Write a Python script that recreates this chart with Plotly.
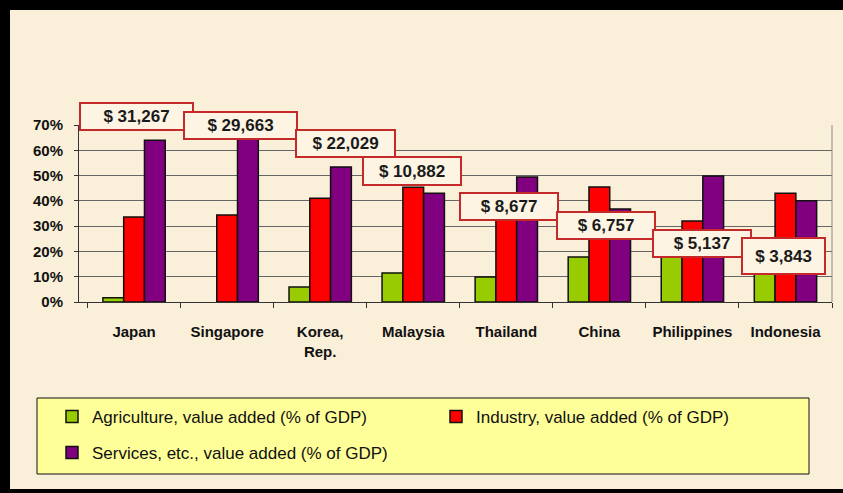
import plotly.graph_objects as go

# ---------------- data ----------------
countries = ["Japan", "Singapore", "Korea,<br>Rep.", "Malaysia", "Thailand", "China", "Philippines", "Indonesia"]
agriculture = [1.7, None, 5.9, 11.5, 9.9, 17.8, 18.5, 14.0]
industry = [33.6, 34.4, 41.0, 45.4, 41.0, 45.5, 32.0, 43.0]
services = [64.0, 65.0, 53.4, 43.0, 49.4, 36.8, 49.8, 40.0]
gdp_labels = ["$ 31,267", "$ 29,663", "$ 22,029", "$ 10,882", "$ 8,677", "$ 6,757", "$ 5,137", "$ 3,843"]
series_names = ["Agriculture, value added (% of GDP)",
                "Industry, value added (% of GDP)",
                "Services, etc., value added (% of GDP)"]
y_tickvals = [0, 10, 20, 30, 40, 50, 60, 70]
y_ticktext = ["0%", "10%", "20%", "30%", "40%", "50%", "60%", "70%"]

# ---------------- layout helpers (positions / styles) ----------------
W, H = 843, 493
L, R, T, B = 79, 11, 125, 191
PW, PH = W - L - R, H - T - B


def px_x(p):
    return (p - L) / PW


def px_y(p):
    return (H - B - p) / PH


# label box placement (category offset, box centre y px, width px, height px)
label_pos = [(0.026, 116.5, 113, 27), (1.141, 125.5, 113, 27), (2.268, 143.5, 99, 27),
             (2.985, 171, 98, 28), (4.026, 206.5, 98, 27), (5.067, 225.5, 98, 27),
             (6.108, 243.5, 98, 27), (6.98, 256, 83, 36)]

GREEN, RED, PURPLE = "#99cc00", "#ff0000", "#800080"

fig = go.Figure()
for name, vals, col, lg in [(series_names[0], agriculture, GREEN, "legend"),
                            (series_names[1], industry, RED, "legend"),
                            (series_names[2], services, PURPLE, "legend2")]:
    fig.add_trace(go.Bar(x=countries, y=vals, name=name, legend=lg,
                         marker=dict(color=col, line=dict(color="#111111", width=1.5))))

annotations = []
for txt, (cx, cy, bw, bh) in zip(gdp_labels, label_pos):
    annotations.append(dict(
        x=cx, y=px_y(cy), xref="x", yref="paper", text=txt, showarrow=False,
        xanchor="center", yanchor="middle",
        width=bw - 2, height=bh - 2, borderpad=0, borderwidth=2,
        bordercolor="#c42a2a", bgcolor="#fdf4e4",
        font=dict(family="Liberation Sans, Arial", size=17, color="#1a1a1a", weight="bold")))

shapes = [
    # cream page inside black frame
    dict(type="rect", xref="paper", yref="paper", layer="below",
         x0=px_x(10), x1=px_x(W + 5), y0=px_y(489), y1=px_y(10),
         fillcolor="#faefd9", line=dict(width=0)),
    # yellow legend box
    dict(type="rect", xref="paper", yref="paper", layer="below",
         x0=px_x(37), x1=px_x(809), y0=px_y(474), y1=px_y(398),
         fillcolor="#ffff99", line=dict(color="#111111", width=1)),
    # right border of plot area
    dict(type="line", xref="paper", yref="paper", x0=1, x1=1, y0=0, y1=1,
         line=dict(color="#8a8a8a", width=1)),
]

fig.update_layout(
    width=W, height=H,
    margin=dict(l=L, r=R, t=T, b=B, pad=0),
    paper_bgcolor="#000000",
    plot_bgcolor="rgba(0,0,0,0)",
    barmode="group", bargap=0.33, bargroupgap=0,
    annotations=annotations, shapes=shapes,
    legend=dict(orientation="h", x=px_x(52), y=px_y(417), xanchor="left", yanchor="middle",
                entrywidth=339, entrywidthmode="pixels", bgcolor="rgba(0,0,0,0)",
                font=dict(family="Liberation Sans, Arial", size=17, color="#111111")),
    legend2=dict(orientation="h", x=px_x(52), y=px_y(453), xanchor="left", yanchor="middle",
                 bgcolor="rgba(0,0,0,0)",
                 font=dict(family="Liberation Sans, Arial", size=17, color="#111111")),
    showlegend=True,
)

fig.update_xaxes(showgrid=False, showline=True, linecolor="#333333", linewidth=1,
                 ticks="outside", tickson="boundaries", ticklen=5, tickcolor="#333333",
                 ticklabelstandoff=16,
                 tickfont=dict(family="Liberation Sans, Arial", size=15, color="#111111", weight="bold"))
fig.update_yaxes(range=[0, 70], tickvals=y_tickvals, ticktext=y_ticktext,
                 showgrid=True, gridcolor="#666666", gridwidth=1,
                 showline=True, linecolor="#333333", linewidth=1,
                 ticks="outside", ticklen=4, tickcolor="#333333", ticklabelstandoff=8,
                 zeroline=False,
                 tickfont=dict(family="Liberation Sans, Arial", size=15, color="#111111", weight="bold"))

fig.write_html("out.html", config={"displayModeBar": False},
               post_script="document.body.style.margin='0';document.body.style.overflow='hidden';")
